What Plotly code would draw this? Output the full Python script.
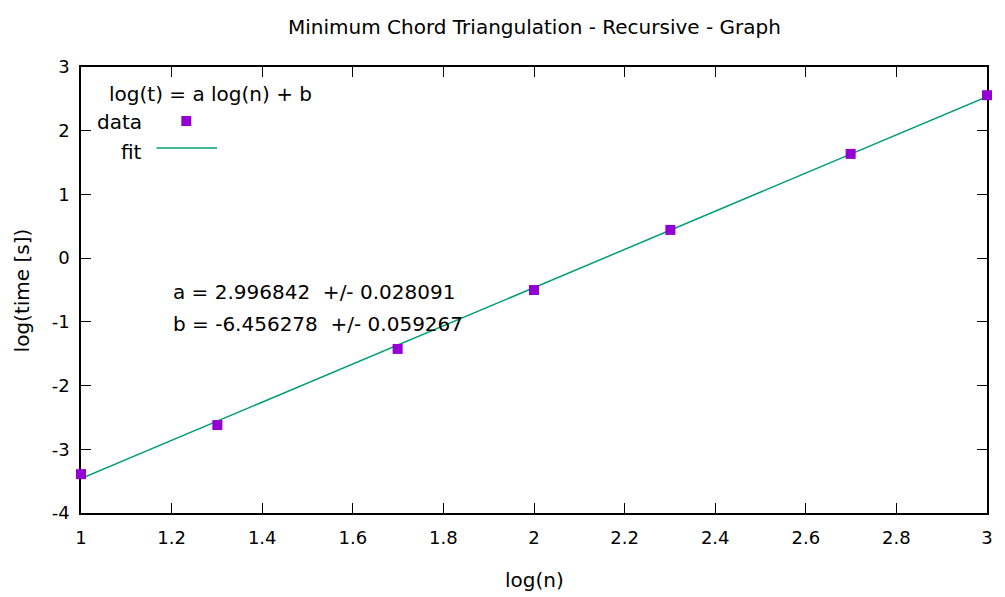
import plotly.graph_objects as go
import numpy as np

# data
log_n = [1.0, 1.30103, 1.69897, 2.0, 2.30103, 2.69897, 3.0]
log_t = [-3.39, -2.62, -1.425, -0.50, 0.443, 1.636, 2.557]
fit_a = 2.996842
fit_a_err = 0.028091
fit_b = -6.456278
fit_b_err = 0.059267
x_ticks = [1, 1.2, 1.4, 1.6, 1.8, 2, 2.2, 2.4, 2.6, 2.8, 3]
y_ticks = [-4, -3, -2, -1, 0, 1, 2, 3]

FONT = "DejaVu Sans"
TXT = 20
W, H = 1005, 597
L, R, T, B = 81, 12, 67, 84
PW, PH = W - L - R, H - T - B

def px(x):
    return (x - L) / PW

def py(y):
    return 1 - (y - T) / PH

fx = np.linspace(1, 3, 101)
fy = fit_a * fx + fit_b

fig = go.Figure()
fig.add_trace(go.Scatter(x=fx, y=fy, mode="lines",
                         line=dict(color="#009E73", width=1.5), showlegend=False))
fig.add_trace(go.Scatter(x=log_n, y=log_t, mode="markers", cliponaxis=False,
                         marker=dict(symbol="square", size=10, color="#9400D3",
                                     line=dict(width=0)), showlegend=False))

axis_common = dict(showgrid=False, zeroline=False, showline=True, linecolor="black",
                   linewidth=1.5, mirror="allticks", ticks="inside", ticklen=10,
                   tickwidth=1.2, tickcolor="black", layer="below traces",
                   tickfont=dict(family=FONT, size=18, color="black"))
fig.update_xaxes(range=[1, 3], tickvals=x_ticks, ticktext=[f"{v:g}" for v in x_ticks],
                 ticklabelstandoff=8, **axis_common)
fig.update_yaxes(range=[-4, 3], tickvals=y_ticks, ticktext=[f"{v:g}" for v in y_ticks],
                 ticklabelstandoff=6, **axis_common)

anns = [
    dict(text="log(t) = a log(n) + b", x=px(107), y=py(94), xanchor="left", yanchor="middle"),
    dict(text="data", x=px(144), y=py(122), xanchor="right", yanchor="middle"),
    dict(text="fit", x=px(144), y=py(152), xanchor="right", yanchor="middle"),
    dict(text=f"a = {fit_a:.6f}  +/- {fit_a_err:.6f}", x=px(172), y=py(292),
         xanchor="left", yanchor="middle"),
    dict(text=f"b = {fit_b:.6f}  +/- {fit_b_err:.6f}", x=px(172), y=py(324),
         xanchor="left", yanchor="middle"),
    dict(text="log(n)", x=px(537), y=py(580), xanchor="center", yanchor="middle"),
    dict(text="log(time [s])", x=px(22), y=py(290), xanchor="center", yanchor="middle",
         textangle=-90),
    dict(text="Minimum Chord Triangulation - Recursive - Graph", x=px(537), y=py(27),
         xanchor="center", yanchor="middle"),
]
for a in anns:
    a.update(xref="paper", yref="paper", showarrow=False,
             font=dict(family=FONT, size=TXT, color="black"))
    fig.add_annotation(**a)

fig.add_shape(type="line", xref="paper", yref="paper", x0=px(157), x1=px(218),
              y0=py(148), y1=py(148), line=dict(color="#009E73", width=1.5))
fig.add_shape(type="rect", xref="paper", yref="paper", x0=px(182), x1=px(192),
              y0=py(116), y1=py(126), line=dict(width=0), fillcolor="#9400D3")

fig.update_layout(
    width=W, height=H,
    margin=dict(l=L, r=R, t=T, b=B),
    paper_bgcolor="white", plot_bgcolor="white",
)
fig.write_html("out.html", config={"displayModeBar": False},
               post_script="document.body.style.margin='0';")
